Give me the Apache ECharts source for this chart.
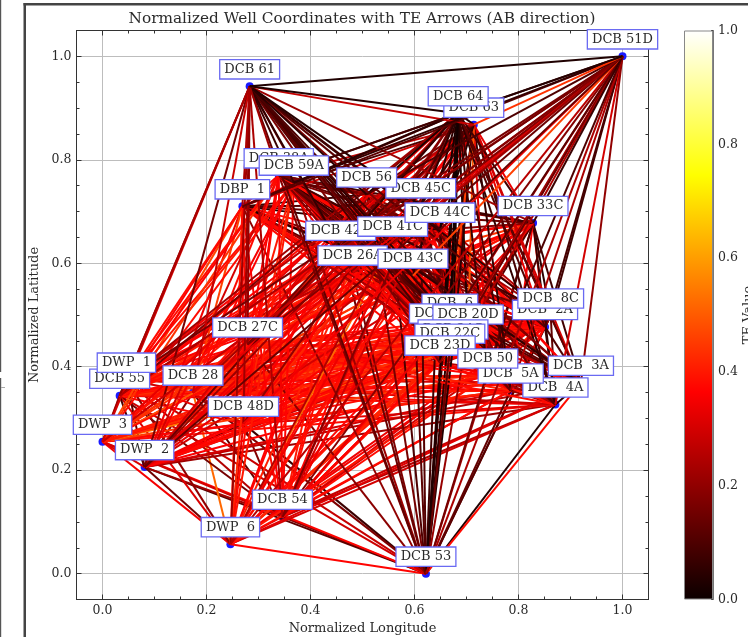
<!DOCTYPE html>
<html><head><meta charset="utf-8">
<style>html,body{margin:0;padding:0;background:#fff;overflow:hidden}#c{width:748px;height:637px}</style>
<script src="https://cdn.jsdelivr.net/npm/echarts@6/dist/echarts.min.js"></script>
</head><body><div id="c"></div>
<script>
const wells = ["DCB 51D","DCB 61","DCB 64","DCB 63","DCB 38A","DCB 59A","DBP  1","DCB 56","DCB 45C","DCB 44C","DCB 33C","DCB 41C","DCB 42C","DCB 26A","DCB 43C","DCB 27C","DCB  6","DCB 21D","DCB 20D","DCB 24C","DCB 22C","DCB 23D","DCB 50","DCB  5A","DCB  3A","DCB  4A","DCB  2A","DCB  8C","DWP  1","DCB 55","DCB 28","DCB 48D","DWP  3","DWP  2","DWP  6","DCB 54","DCB 53"];
const lon = [1,.283,.684,.714,.339,.368,.269,.508,.612,.649,.828,.558,.458,.481,.597,.279,.668,.658,.703,.674,.668,.649,.741,.785,.920,.871,.851,.862,.046,.033,.174,.271,0,.081,.246,.346,.622];
const lat = [1,.942,.890,.868,.770,.756,.710,.733,.712,.665,.678,.638,.630,.582,.576,.443,.489,.470,.468,.439,.431,.408,.383,.354,.369,.327,.477,.499,.375,.344,.350,.290,.255,.206,.057,.110,0];
const labelOrder = ["DCB 51D","DCB 61","DCB 63","DCB 64","DCB 38A","DCB 59A","DBP  1","DCB 45C","DCB 56","DCB 42C","DCB 41C","DCB 44C","DCB 33C","DCB 26A","DCB 43C","DCB 27C","DCB  6","DCB 21D","DCB 20D","DCB 24C","DCB 22C","DCB 23D","DCB  4A","DCB  5A","DCB 50","DCB  2A","DCB  8C","DCB  3A","DCB 55","DWP  1","DCB 28","DCB 48D","DWP  3","DWP  2","DWP  6","DCB 54","DCB 53"];
// edges hidden in the dense centre are hand estimates of the local colour mix, not exact readings.
const teAB = [
[3,4,44,8,6,12,10,18,14,7,22,16,30,46,18,12,26,24,14,32,20,10,24,20,30,9,8,16,24,32,34,28,14,26,18,24],
[3,28,22,7,24,5,4,8,22,10,6,16,9,20,7,12,5,15,9,17,8,14,18,10,12,6,24,20,28,22,30,16,22,24,13],
[4,9,5,12,3,5,2,8,10,6,18,5,16,1,2,4,1,3,2,7,9,13,6,11,5,22,17,30,20,33,14,25,18,3],
[27,10,30,14,7,4,33,25,12,36,30,24,46,8,50,5,28,10,32,6,30,9,33,30,27,36,23,36,38,21,34,30,14],
[11,36,16,24,13,8,38,18,36,15,36,12,23,9,36,17,36,11,21,6,14,36,8,38,36,38,36,44,30,38,35,18],
[36,12,38,18,9,38,21,37,37,40,20,36,13,38,23,38,15,36,10,19,38,14,38,40,36,42,38,35,40,37,22],
[7,11,5,14,36,4,38,16,38,22,37,16,38,25,38,19,36,12,23,37,15,38,36,46,37,47,34,40,36,20],
[15,21,27,10,23,18,36,37,25,36,38,19,40,24,36,38,17,37,38,22,36,38,38,36,40,30,37,38,16],
[16,23,26,14,36,20,38,10,24,36,13,37,17,38,21,36,15,38,25,36,40,36,42,37,33,38,30,11],
[19,36,27,22,38,37,7,15,38,9,34,13,40,18,37,24,13,38,26,38,42,36,43,28,38,34,8],
[37,30,44,38,36,34,38,12,40,26,42,10,36,8,6,38,5,36,38,40,36,38,30,37,33,16],
[12,16,36,38,36,21,38,36,40,37,23,38,20,36,15,34,37,42,38,40,44,34,52,37,10],
[20,37,38,19,38,36,40,37,38,17,36,13,22,38,18,38,38,46,37,40,38,36,40,14],
[36,40,38,26,40,38,42,38,36,40,24,38,21,37,38,42,38,44,40,38,41,38,17],
[37,15,38,36,42,38,40,25,37,16,34,38,20,36,40,44,38,50,34,40,37,12],
[38,40,36,38,42,40,37,41,34,38,38,36,36,44,40,37,52,38,42,38,19],
[9,14,6,22,12,38,16,36,11,37,21,38,37,42,38,40,35,38,36,5],
[18,13,25,10,38,21,36,17,38,24,40,38,43,38,41,37,40,38,7],
[15,37,26,11,38,23,37,19,36,38,41,40,44,38,36,42,37,21],
[8,17,36,24,38,20,40,36,41,38,46,38,43,38,41,38,4],
[13,38,36,40,25,38,38,40,42,40,50,38,37,43,38,24],
[37,40,26,38,36,40,41,44,38,42,54,38,40,41,9],
[12,38,23,37,40,38,41,43,38,45,36,40,38,23],
[15,22,38,27,36,40,38,41,37,30,38,34,13],
[5,10,16,30,36,33,37,40,26,32,28,38],
[8,13,28,34,37,32,38,22,30,25,3],
[4,33,37,36,40,41,28,35,30,11],
[32,36,40,34,37,27,34,32,16],
[18,29,33,22,13,20,25,28],
[32,36,23,9,31,16,29],
[27,38,19,52,12,17],
[35,10,33,18,7],
[31,35,30,37],
[15,22,12],
[32,37],
[19]
];
const majorTicks = [0,0.2,0.4,0.6,0.8,1];
const barTop = [1];

const hotStops = [[0,[10.6,0,0]],[0.365,[255,0,0]],[0.746,[255,255,0]],[1,[255,255,255]]];
function hot(t){
  for(let k=1;k<hotStops.length;k++){
    const [a,ca]=hotStops[k-1],[b,cb]=hotStops[k];
    if(t<=b){const f=(t-a)/(b-a);return 'rgb('+ca.map((c,i)=>Math.round(c+(cb[i]-c)*f)).join(',')+')';}
  }
  return '#fff';
}
const edges=[];
teAB.forEach((row,i)=>row.forEach((v,k)=>{
  const j=i+1+k;
  edges.push({coords:[[lon[i],lat[i]],[lon[j],lat[j]]],lineStyle:{color:hot(v/100)}});
}));
edges.reverse();
const serif='"DejaVu Serif"', ink='#2a2a2a', axisCol='#333';
const fmt=v=>Number(v).toFixed(1);
function mainAxis(extra,labels){
  return Object.assign({type:'value',min:-0.05,max:1.05,interval:0.05,
    axisLine:{show:true,onZero:false,lineStyle:{color:axisCol,width:1}},
    axisTick:{show:true,inside:true,length:5,customValues:majorTicks,lineStyle:{color:axisCol}},
    axisLabel:{show:labels,customValues:majorTicks,formatter:fmt,color:ink,fontFamily:serif,fontSize:12.5,margin:5},
    splitLine:{show:labels,lineStyle:{color:'#bdbdbd',width:1}}},extra);
}
function minorAxis(extra){
  return Object.assign({type:'value',gridIndex:2,min:-0.05,max:1.05,interval:0.05,
    axisLine:{show:false,onZero:false},
    axisTick:{show:true,inside:true,length:3,lineStyle:{color:axisCol}},
    axisLabel:{show:false},splitLine:{show:false}},extra);
}
const plot={left:76.5,top:30.5,width:572,height:569,outerBoundsMode:'none'};
const nameStyle={fontFamily:serif,fontSize:13,color:ink};
const option={
  animation:false,backgroundColor:'#fff',
  title:{text:'Normalized Well Coordinates with TE Arrows (AB direction)',left:357,top:7,textAlign:'center',
    textStyle:{fontFamily:serif,fontSize:15.3,fontWeight:'normal',color:ink}},
  grid:[plot,{left:684,top:30.5,width:29,height:569,outerBoundsMode:'none'},plot],
  xAxis:[
    mainAxis({gridIndex:0,position:'bottom',name:'Normalized Longitude',nameLocation:'middle',nameGap:18,nameTextStyle:nameStyle},true),
    mainAxis({gridIndex:0,position:'top'},false),
    {gridIndex:1,type:'category',data:barTop,show:false,boundaryGap:true},
    minorAxis({position:'bottom'}),minorAxis({position:'top'})
  ],
  yAxis:[
    mainAxis({gridIndex:0,position:'left',name:'Normalized Latitude',nameLocation:'middle',nameGap:25,nameRotate:90,nameTextStyle:nameStyle},true),
    mainAxis({gridIndex:0,position:'right'},false),
    {gridIndex:1,type:'value',position:'right',min:0,max:1,interval:0.05,
     axisLine:{show:true,lineStyle:{color:'#777'}},
     axisTick:{show:true,inside:true,length:2,lineStyle:{color:axisCol}},
     splitLine:{show:false},
     axisLabel:{customValues:majorTicks,color:ink,fontFamily:serif,fontSize:12.5,margin:5,formatter:fmt},
     name:'TE Value',nameLocation:'middle',nameGap:26,nameRotate:90,nameTextStyle:nameStyle},
    minorAxis({position:'left'}),minorAxis({position:'right'})
  ],
  series:[
    {type:'scatter',xAxisIndex:0,yAxisIndex:0,z:2,symbolSize:8,itemStyle:{color:'#1a1aff',opacity:1},silent:true,
     data:wells.map((n,i)=>[lon[i],lat[i]])},
    {type:'lines',coordinateSystem:'cartesian2d',xAxisIndex:0,yAxisIndex:0,z:3,silent:true,
     lineStyle:{width:2,opacity:1,curveness:0},data:edges},
    {type:'scatter',xAxisIndex:0,yAxisIndex:0,z:5,symbolSize:1,itemStyle:{color:'rgba(0,0,0,0)',opacity:1},silent:true,
     label:{show:true,position:'inside',offset:[0,-17],opacity:1,formatter:p=>p.data[2],fontFamily:serif,fontSize:13,color:ink,
       backgroundColor:'#fff',borderColor:'#6a6af2',borderWidth:1.3,padding:[3,4,2,4]},
     data:labelOrder.map(n=>{const i=wells.indexOf(n);return [lon[i],lat[i],n];})},
    {type:'bar',xAxisIndex:2,yAxisIndex:2,data:barTop,barWidth:'100%',silent:true,
     itemStyle:{borderColor:'#888',borderWidth:1,color:new echarts.graphic.LinearGradient(0,1,0,0,hotStops.map(s=>({offset:s[0],color:hot(s[0])})))}}
  ],
  graphic:[
    {type:'rect',shape:{x:23.5,y:3,width:2.5,height:634},style:{fill:'#444'}},
    {type:'rect',shape:{x:23.5,y:3,width:725,height:2.5},style:{fill:'#444'}},
    {type:'rect',shape:{x:0,y:0,width:1.2,height:372},style:{fill:'#555'}},
    {type:'rect',shape:{x:0,y:378,width:1.2,height:259},style:{fill:'#555'}},
    {type:'rect',shape:{x:1,y:387,width:4,height:1},style:{fill:'#aaa'}}
  ]
};
echarts.init(document.getElementById('c'),null,{renderer:'canvas'}).setOption(option);
</script></body></html>
